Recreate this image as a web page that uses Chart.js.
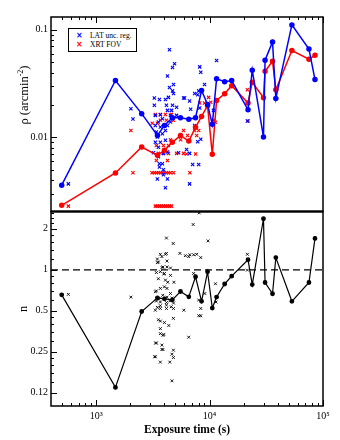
<!DOCTYPE html>
<html>
<head>
<meta charset="utf-8">
<script src="https://cdn.jsdelivr.net/npm/chart.js@4.4.1/dist/chart.umd.min.js"></script>
<style>
    html, body { margin: 0; padding: 0; background: #fff; }
    #wrap { position: relative; width: 340px; height: 440px; }
    #legend {
        position: absolute; left: 68px; top: 28px; width: 67px; height: 22px;
        border: 1px solid #000; background: #fff;
        font: 7.5px "Liberation Serif", serif; color: #000;
    }
    #legend .row { position: absolute; left: 0; height: 9px; line-height: 9px; white-space: nowrap; }
    #legend .mk { position: absolute; left: 7px; width: 6px; text-align: center; font: bold 8px "DejaVu Sans", sans-serif; }
    #legend .txt { position: absolute; left: 21px; }
    #rhoTitle {
        position: absolute; left: -25px; top: 87px; width: 100px; height: 16px; line-height: 16px;
        text-align: center; transform: rotate(-90deg);
        font: 12.5px "Liberation Serif", serif; color: #000;
    }
    #rhoTitle sup { font-size: 8px; vertical-align: 5px; line-height: 0; }
</style>
</head>
<body>
<div id="wrap">
    <canvas id="chart" width="340" height="440"></canvas>
    <div id="rhoTitle">ρ (arcmin<sup>-2</sup>)</div>
    <div id="legend">
        <div class="row" style="top:1.5px"><span class="mk" style="color:#0000ff">×</span><span class="txt">LAT unc. reg.</span></div>
        <div class="row" style="top:10.5px"><span class="mk" style="color:#ff0000">×</span><span class="txt">XRT FOV</span></div>
    </div>
</div>
<script>
// binned sources (connected by lines)
const expTime = [497, 1480, 2520, 3470, 4000, 4700, 5540, 6560, 7520, 8500, 9600, 10570,
    11530, 13580, 15660, 21830, 23780, 29870, 30850, 35890, 38380, 53180, 75190, 84990];
const latRho = [0.0036, 0.0337, 0.0166, 0.0104, 0.0129, 0.0152, 0.0152, 0.0147, 0.0152, 0.0272, 0.0202, 0.0132,
    0.0350, 0.0328, 0.0337, 0.0180, 0.0420, 0.0101, 0.0520, 0.0769, 0.0230, 0.1107, 0.0660, 0.0344];
const xrtRho = [0.00234, 0.00467, 0.00813, 0.00681, 0.00758, 0.00899, 0.01043, 0.00924, 0.01238, 0.01564, 0.01966, 0.00696,
    0.0220, 0.0254, 0.0302, 0.02086, 0.0324, 0.02336, 0.0411, 0.0509, 0.0277, 0.0639, 0.0531, 0.0578];
const nIndex = [0.655, 0.137, 0.494, 0.623, 0.612, 0.602, 0.693, 0.633, 0.889, 0.587, 0.967, 0.524,
    0.631, 0.787, 0.898, 1.186, 0.779, 2.37, 0.807, 0.667, 1.229, 0.587, 0.807, 1.70];

// individual fields, LAT uncertainty region
const latT = [569, 2025, 2112, 4432, 4912, 4714, 4254, 4812, 4432, 4812, 3258, 3614, 4083, 4342, 5897, 6669,
    7390, 8190, 8023, 3258, 4167, 6807, 5118, 4254, 3327, 3683, 4524, 8360, 11530, 9030, 6018, 4714,
    4714, 4618, 7390, 7860, 8360, 6270, 5332, 7093, 8023, 6669, 21550, 10830, 7860, 8190, 4083, 3465,
    3920, 4254, 3920, 3838, 3614, 6669, 3540, 3920, 4254, 3200, 3540, 3327, 3683, 4083, 3465, 3838,
    3398, 4083, 3683, 3327, 4254, 3540, 4524, 3838, 4618, 5118, 3614];
const latR = [0.0037, 0.0184, 0.0148, 0.0649, 0.0482, 0.0445, 0.0372, 0.0310, 0.0290, 0.0255, 0.0232, 0.0225,
    0.0225, 0.0235, 0.0232, 0.0218, 0.0255, 0.0451, 0.0270, 0.0199, 0.0199, 0.0182, 0.0190, 0.0178, 0.0160,
    0.0162, 0.0160, 0.0403, 0.0516, 0.0310, 0.0232, 0.0270, 0.0199, 0.0178, 0.0129, 0.0091, 0.0096, 0.0077,
    0.0072, 0.0056, 0.0056, 0.0037, 0.0142, 0.0178, 0.0249, 0.0187, 0.0034, 0.0041, 0.0045, 0.0041, 0.0050,
    0.0057, 0.0057, 0.0071, 0.0066, 0.0071, 0.0073, 0.0072, 0.0081, 0.0090, 0.0090, 0.0094, 0.0101, 0.0108,
    0.0112, 0.0116, 0.0125, 0.0129, 0.0129, 0.0139, 0.0139, 0.0149, 0.0154, 0.0160, 0.0053];

// individual fields, XRT field of view
const xrtT = [569, 2025, 2112,
    3110, 3258, 3398, 3540, 3683, 3838, 4000, 4167, 4342, 4524, 4812, 6700,
    3327, 3465, 3614, 3760, 3920, 4083, 4254, 4432, 4618,
    5897, 6270, 7540, 7390, 8023, 9030, 8190, 10240, 10900, 21550, 21900, 9800, 11270,
    3327, 3683, 4083, 4618, 3683, 4167, 4812, 3124, 3465, 5556, 6400, 7700, 4524, 5556,
    3398, 3920, 4342, 3540, 3920, 4342, 5118, 5897, 3398, 4254];
const xrtR = [0.0023, 0.0116, 0.0047,
    0.0047, 0.0047, 0.0047, 0.0047, 0.0047, 0.0047, 0.0047, 0.0047, 0.0047, 0.0047, 0.0047, 0.0047,
    0.0023, 0.0023, 0.0023, 0.0023, 0.0023, 0.0023, 0.0023, 0.0023, 0.0023,
    0.0116, 0.0070, 0.0070, 0.0116, 0.0116, 0.0208, 0.0208, 0.0212, 0.0144, 0.0277, 0.0142, 0.0235, 0.0138,
    0.0163, 0.0163, 0.0163, 0.0163, 0.0144, 0.0144, 0.0144, 0.0135, 0.0135, 0.0104, 0.0104, 0.0104, 0.0095, 0.0095,
    0.0084, 0.0084, 0.0084, 0.0071, 0.0071, 0.0071, 0.0071, 0.0071, 0.0061, 0.0061];

// individual fields, index n
const nT = [569, 2025, 4167, 3465, 3465, 3683, 4083, 3810, 3398, 3950, 3398, 3560, 3465, 3683, 3683, 3880,
    3340, 3800, 3800, 3280, 3683, 7170, 8100, 4780, 5480, 6550, 7240, 4167, 3800, 3540, 4210, 3880,
    4210, 4524, 3683, 4000, 4524, 3540, 4083, 7240, 4280, 4850, 4000, 3683, 4210, 4524, 3327, 3870,
    4210, 4660, 4812, 3398, 3683, 4167, 4460, 3327, 3683, 4167, 4812, 5930, 3683, 4167, 4590, 3540,
    4000, 4370, 4800, 3683, 3950, 6550, 3398, 3880, 4800, 3327, 4660, 4800, 4460, 4660, 8023, 9700,
    7700, 8360, 21550, 21550, 11270, 9080, 8023, 11400, 8360, 8360, 6120, 6700];
const nV = [0.66, 0.63, 1.71, 1.13, 1.20, 1.30, 1.30, 1.04, 0.955, 0.93, 0.70, 0.61, 0.53, 0.42, 0.37, 0.33,
    0.29, 0.28, 0.26, 0.23, 0.21, 2.15, 2.62, 1.56, 1.32, 1.25, 1.29, 1.32, 1.25, 1.14, 1.16, 1.05,
    1.05, 1.03, 0.97, 0.94, 0.91, 0.86, 0.84, 0.94, 0.81, 0.81, 0.75, 0.73, 0.73, 0.67, 0.69, 0.65,
    0.63, 0.62, 0.57, 0.59, 0.58, 0.575, 0.59, 0.505, 0.52, 0.52, 0.52, 0.505, 0.545, 0.55, 0.535, 0.43,
    0.41, 0.39, 0.44, 0.34, 0.335, 0.32, 0.29, 0.26, 0.257, 0.23, 0.24, 0.227, 0.21, 0.153, 0.46, 1.63,
    1.30, 1.23, 1.30, 0.995, 0.79, 0.67, 0.60, 0.58, 0.52, 0.46, 1.27, 1.29];

const refLineT = [400, 100000];
const refLineN = [1, 1];

// axis ticks
const xMajor = [1000, 10000, 100000];
const xLabels = ['10³', '10⁴', '10⁵'];
const xMinor = [500, 600, 700, 800, 900, 2000, 3000, 4000, 5000, 6000, 7000, 8000, 9000,
    20000, 30000, 40000, 50000, 60000, 70000, 80000, 90000];
const rhoMajor = [0.01, 0.1];
const rhoLabels = ['0.01', '0.1'];
const rhoMinor = [0.003, 0.004, 0.005, 0.006, 0.007, 0.008, 0.009, 0.02, 0.03, 0.04, 0.05, 0.06, 0.07, 0.08, 0.09];
const nMajor = [0.125, 0.25, 0.5, 1, 2];
const nLabels = ['0.12', '0.25', '0.5', '1', '2'];
const nMinor = [0.15, 0.175, 0.2, 0.225, 0.3, 0.35, 0.4, 0.45, 0.6, 0.7, 0.8, 0.9, 1.2, 1.4, 1.6, 1.8, 2.2, 2.4, 2.6];

const pts = (xs, ys) => xs.map((x, i) => ({ x: x, y: ys[i] }));
const serif = 'Liberation Serif';

const frameTicks = {
    id: 'frameTicks',
    afterDatasetsDraw(chart) {
        const { ctx, chartArea, scales } = chart;
        const x = scales.x, yt = scales.yTop, yb = scales.yBot;
        const L = chartArea.left, R = chartArea.right;
        ctx.save();
        ctx.strokeStyle = '#000';
        ctx.lineWidth = 1;
        ctx.beginPath();
        const xt = (v, len) => {
            const px = Math.round(x.getPixelForValue(v)) + 0.5;
            ctx.moveTo(px, yb.bottom); ctx.lineTo(px, yb.bottom - len);
            ctx.moveTo(px, yt.top); ctx.lineTo(px, yt.top + len);
        };
        xMajor.forEach(v => xt(v, 6));
        xMinor.forEach(v => xt(v, 3));
        const ytk = (s, v, len) => {
            const py = Math.round(s.getPixelForValue(v)) + 0.5;
            ctx.moveTo(L, py); ctx.lineTo(L + len, py);
        };
        rhoMajor.forEach(v => ytk(yt, v, 6));
        rhoMinor.forEach(v => ytk(yt, v, 3));
        nMajor.forEach(v => ytk(yb, v, 6));
        nMinor.forEach(v => ytk(yb, v, 3));
        ctx.stroke();
        ctx.lineWidth = 1.5;
        ctx.strokeRect(L, yt.top, R - L, yt.bottom - yt.top);
        ctx.strokeRect(L, yb.top, R - L, yb.bottom - yb.top);
        ctx.lineWidth = 2;
        ctx.beginPath();
        ctx.moveTo(L, yt.bottom); ctx.lineTo(R, yt.bottom);
        ctx.stroke();
        ctx.restore();
    }
};

const tickFont = { family: serif, size: 10 };

new Chart(document.getElementById('chart'), {
    data: {
        datasets: [
            {
                type: 'line', yAxisID: 'yTop', data: pts(expTime, latRho),
                borderColor: '#0000ff', backgroundColor: '#0000ff', borderWidth: 1.5,
                pointRadius: 2, pointStyle: 'circle', tension: 0
            },
            {
                type: 'line', yAxisID: 'yTop', data: pts(expTime, xrtRho),
                borderColor: '#ff0000', backgroundColor: '#ff0000', borderWidth: 1.5,
                pointRadius: 2, pointStyle: 'circle', tension: 0
            },
            {
                type: 'line', yAxisID: 'yBot', data: pts(expTime, nIndex),
                borderColor: '#000', backgroundColor: '#000', borderWidth: 1.2,
                pointRadius: 1.8, pointStyle: 'circle', tension: 0
            },
            {
                type: 'line', yAxisID: 'yBot', data: pts(refLineT, refLineN),
                borderColor: '#000', borderWidth: 1.3, borderDash: [7, 4], pointRadius: 0
            },
            {
                type: 'scatter', yAxisID: 'yTop', data: pts(latT, latR),
                borderColor: '#0000ff', pointStyle: 'crossRot', pointRadius: 2.3, borderWidth: 1.1
            },
            {
                type: 'scatter', yAxisID: 'yTop', data: pts(xrtT, xrtR),
                borderColor: '#ff0000', pointStyle: 'crossRot', pointRadius: 2.3, borderWidth: 1.1
            },
            {
                type: 'scatter', yAxisID: 'yBot', data: pts(nT, nV),
                borderColor: '#000', pointStyle: 'crossRot', pointRadius: 2.0, borderWidth: 0.9
            }
        ]
    },
    options: {
        responsive: false,
        animation: false,
        layout: { padding: { top: 17, right: 17, left: 0, bottom: 0 } },
        plugins: { legend: { display: false }, tooltip: { enabled: false } },
        scales: {
            x: {
                type: 'logarithmic', position: 'bottom', min: 400, max: 100000,
                grid: { display: false, drawTicks: false }, border: { display: false },
                afterBuildTicks: s => { s.ticks = xMajor.map(v => ({ value: v })); },
                ticks: {
                    callback: (v, i) => xLabels[i], padding: 4, autoSkip: false, maxRotation: 0,
                    font: tickFont, color: '#000'
                },
                title: {
                    display: true, text: 'Exposure time (s)', color: '#000',
                    font: { family: serif, size: 11.5, weight: 'bold' }, padding: { top: 0, bottom: 3 }
                },
                afterFit: s => { s.height = 34; }
            },
            // stacked panels are laid out in reverse of declaration: bottom panel first
            yBot: {
                type: 'logarithmic', position: 'left', stack: 'panels', stackWeight: 1,
                min: 0.1, max: 2.68,
                grid: { display: false, drawTicks: false }, border: { display: false },
                afterBuildTicks: s => { s.ticks = nMajor.map(v => ({ value: v })); },
                ticks: {
                    callback: (v, i) => nLabels[i], padding: 3, autoSkip: false,
                    font: tickFont, color: '#000'
                },
                title: {
                    display: true, text: 'n', color: '#000',
                    font: { family: serif, size: 12.5 }, padding: { top: 16, bottom: 0 }
                },
                afterFit: s => { s.width = 51; }
            },
            yTop: {
                type: 'logarithmic', position: 'left', stack: 'panels', stackWeight: 1,
                min: 0.00205, max: 0.131,
                grid: { display: false, drawTicks: false }, border: { display: false },
                afterBuildTicks: s => { s.ticks = rhoMajor.map(v => ({ value: v })); },
                ticks: {
                    callback: (v, i) => rhoLabels[i], padding: 3, autoSkip: false,
                    font: tickFont, color: '#000'
                },
                afterFit: s => { s.width = 51; }
            }
        }
    },
    plugins: [frameTicks]
});
</script>
</body>
</html>
